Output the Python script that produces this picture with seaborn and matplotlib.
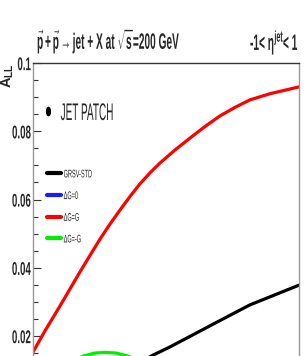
import matplotlib
matplotlib.use("Agg")
import matplotlib.pyplot as plt
import seaborn as sns
import pandas as pd
from matplotlib.lines import Line2D
from matplotlib.path import Path
from matplotlib.patheffects import AbstractPathEffect
from matplotlib.transforms import Affine2D
from matplotlib.ticker import MultipleLocator

# jet pT (GeV) and A_LL
pt_std = [21.0, 23.05, 25.6, 32.7, 37.6, 45.0]
all_std = [0.0122, 0.0144, 0.0168, 0.0241, 0.0291, 0.0349]

pt_g0 = [5.0, 15.0, 25.0, 35.0, 45.0]
all_g0 = [0.0005, 0.0015, 0.0030, 0.0050, 0.0075]

pt_gmax = [5.0, 6.8, 9.06, 12.07, 13.6, 15.08, 16.58, 18.08, 19.59, 21.09, 22.59, 24.1,
           26.35, 28.61, 30.87, 33.12, 35.38, 37.63, 40.64, 45.0]
all_gmax = [0.0153, 0.0215, 0.0288, 0.0388, 0.0437, 0.0484, 0.0528, 0.0569, 0.0609, 0.0646, 0.0678, 0.0707,
            0.0745, 0.0780, 0.0814, 0.0845, 0.0870, 0.0892, 0.0910, 0.0930]

pt_gmin = [9.06, 12.5, 14.3, 15.8, 17.5, 19.3, 22.6]
all_gmin = [0.0100, 0.0141, 0.0150, 0.0152, 0.0150, 0.0141, 0.0110]

curves = [
    ("GRSV-STD", pt_std, all_std, "black"),
    ("\u0394G=0", pt_g0, all_g0, "#1a1aff"),
    ("\u0394G=G", pt_gmax, all_gmax, "#ff0000"),
    ("\u0394G=-G", pt_gmin, all_gmin, "#00ee00"),
]


class Stretch(AbstractPathEffect):
    """draw text glyphs taller (condensed look of the original)"""
    def __init__(self, sy, cy=0.0):
        super().__init__()
        self.sy, self.cy = sy, cy

    def draw_path(self, renderer, gc, tpath, affine, rgbFace=None):
        t = Affine2D().translate(0, -self.cy).scale(1, self.sy).translate(0, self.cy)
        renderer.draw_path(gc, tpath, t + affine, rgbFace)


sns.set_style("white")
plt.rcParams["font.family"] = ["Liberation Sans", "DejaVu Sans"]
plt.rcParams["mathtext.fontset"] = "custom"
plt.rcParams["mathtext.rm"] = "Liberation Sans:bold"
plt.rcParams["mathtext.it"] = "Liberation Sans:bold"
plt.rcParams["mathtext.bf"] = "Liberation Sans:bold"

fig = plt.figure(figsize=(3.06, 3.56), dpi=100)
ax = fig.add_axes([33 / 306, 0.0, 266 / 306, 293 / 356])

for name, x, y, c in curves:
    df = pd.DataFrame({"pt": x, "all": y})
    sns.lineplot(data=df, x="pt", y="all", color=c, lw=2.3, ax=ax, label=name)

ax.set_xlim(5, 45)
ax.set_ylim(0.01414, 0.1)
ax.yaxis.set_minor_locator(MultipleLocator(0.005))
ax.set_yticks([0.02, 0.04, 0.06, 0.08, 0.1])
ax.set_yticklabels(["0.02", "0.04", "0.06", "0.08", "0.1"], fontweight="bold", fontsize=7)
for t in ax.get_yticklabels():
    t.set_path_effects([Stretch(1.9, 36)])
ax.tick_params(axis="y", which="major", direction="in", length=6, width=0.8, color="#333333", pad=1.5, left=True)
ax.tick_params(axis="y", which="minor", direction="in", length=3.5, width=0.8, color="#333333", left=True)
ax.tick_params(axis="x", which="both", bottom=False, labelbottom=False)
ax.set_xlabel("")
ax.set_ylabel(r"$\mathrm{A_{LL}}$", fontsize=10.5, loc="top")
ax.yaxis.set_label_coords(-0.064, 1.0)

for side in ["left", "right"]:
    ax.spines[side].set_color("#999999")
    ax.spines[side].set_linewidth(1.0)
ax.spines["top"].set_color("#333333")
ax.spines["top"].set_linewidth(1.0)
ax.spines["bottom"].set_visible(False)

# model legend
leg = ax.legend(loc="upper left", bbox_to_anchor=(0.0526, 0.63), frameon=False,
                fontsize=4, handlelength=2.44, handletextpad=0.56, labelspacing=3.0,
                borderpad=0, borderaxespad=0)
for h in leg.legend_handles:
    h.set_linewidth(3)
for t in leg.get_texts():
    t.set_path_effects([Stretch(2.0, 36)])
ax.add_artist(leg)

# data legend, tall narrow dot
dot_path = Path.unit_circle().transformed(Affine2D().scale(0.45, 1.0))
dot = Line2D([], [], marker=dot_path, ls="", color="black", markersize=6)
leg2 = ax.legend([dot], ["JET PATCH"], loc="upper left", bbox_to_anchor=(0.038, 0.85),
                 frameon=False, fontsize=7.2, handlelength=1.0, handletextpad=0.75,
                 borderpad=0, borderaxespad=0)
for t in leg2.get_texts():
    t.set_path_effects([Stretch(2.4, 36)])

title = fig.text(37 / 306, 1 - 49 / 356, r"$\vec{p}+\vec{p}\rightarrow$jet + X at $\sqrt{s}$=200 GeV",
                 fontsize=7.3, fontweight="bold", ha="left", va="baseline")
title.set_path_effects([Stretch(2.2)])
eta = fig.text(250 / 306, 1 - 50 / 356, r"-1< $\eta^{jet}$< 1", fontsize=7.3, fontweight="bold",
               ha="left", va="baseline")
eta.set_path_effects([Stretch(2.2)])

fig.savefig("out.png", dpi=100)
